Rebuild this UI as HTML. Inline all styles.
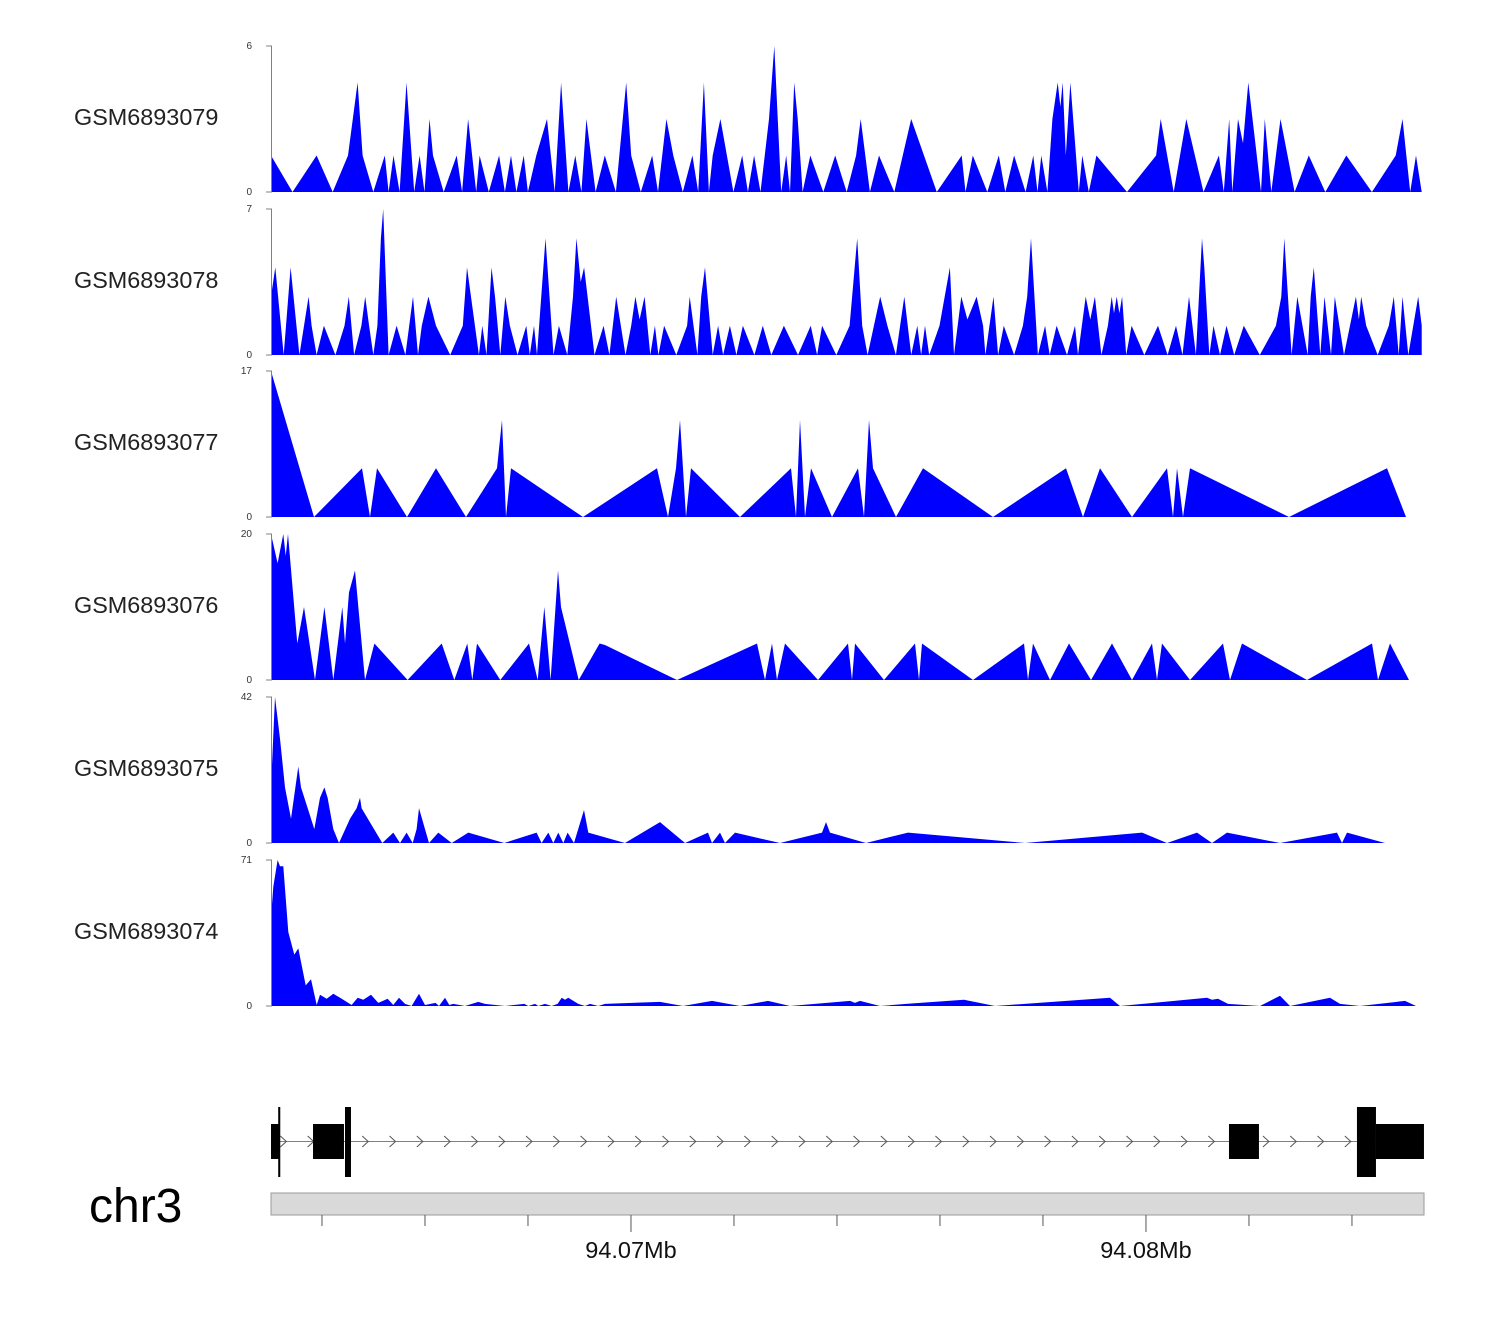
<!DOCTYPE html>
<html>
<head>
<meta charset="utf-8">
<style>
html,body{margin:0;padding:0;background:#fff;}
svg{display:block;font-family:"Liberation Sans",Arial,sans-serif;}
</style>
</head>
<body>
<svg id="chart" width="1500" height="1320" viewBox="0 0 1500 1320" xmlns="http://www.w3.org/2000/svg"></svg>
<script>
// ---- data (genomic positions in kb past 94.06 Mb) ----
const trackNames = ["GSM6893079","GSM6893078","GSM6893077","GSM6893076","GSM6893075","GSM6893074"];
const trackMax = [6,7,17,20,42,71];

const pos1 = [3.01,3.428,3.896,4.208,4.505,4.691,4.788,4.996,5.219,5.293,5.389,5.508,5.642,5.791,5.895,5.991,6.088,6.155,6.363,6.616,6.72,6.838,6.995,7.061,7.24,7.44,7.552,7.671,7.775,7.916,7.998,8.161,8.369,8.518,8.644,8.785,8.919,9.038,9.135,9.313,9.491,9.707,9.908,10.004,10.19,10.413,10.524,10.688,10.822,11.007,11.193,11.305,11.416,11.513,11.587,11.736,11.988,12.159,12.271,12.39,12.516,12.68,12.783,12.917,13.014,13.088,13.17,13.237,13.333,13.482,13.734,13.965,14.188,14.371,14.46,14.639,14.817,15.114,15.441,15.939,16.422,16.496,16.638,16.92,17.143,17.269,17.44,17.663,17.812,17.893,17.968,18.087,18.183,18.287,18.339,18.384,18.443,18.533,18.696,18.763,18.889,19.038,19.632,20.197,20.286,20.539,20.784,21.118,21.416,21.512,21.616,21.676,21.787,21.884,21.988,22.233,22.307,22.434,22.612,22.887,23.162,23.482,23.89,24.388,24.849,24.982,25.131,25.243,25.354];
const val1 = [1.5,0,1.5,0,1.5,4.5,1.5,0,1.5,0,1.5,0,4.5,0,1.5,0,3,1.5,0,1.5,0,3,0,1.5,0,1.5,0,1.5,0,1.5,0,1.5,3,0,4.5,0,1.5,0,3,0,1.5,0,4.5,1.5,0,1.5,0,3,1.5,0,1.5,0,4.5,0,1.5,3,0,1.5,0,1.5,0,3,6,0,1.5,0,4.5,3,0,1.5,0,1.5,0,1.5,3,0,1.5,0,3,0,1.5,0,1.5,0,1.5,0,1.5,0,1.5,0,1.5,0,3,4.5,3.5,4.5,1.5,4.5,0,1.5,0,1.5,0,1.5,3,0,3,0,1.5,0,3,0,3,2,4.5,0,3,0,3,0,1.5,0,1.5,0,1.5,3,0,1.5,0];

const pos2 = [3.01,3.093,3.257,3.391,3.561,3.74,3.799,3.896,4.037,4.26,4.438,4.52,4.624,4.765,4.84,4.914,4.996,5.077,5.144,5.189,5.293,5.449,5.62,5.768,5.865,5.939,6.066,6.214,6.489,6.734,6.816,7.047,7.113,7.195,7.292,7.359,7.463,7.559,7.648,7.797,7.968,8.035,8.117,8.176,8.34,8.496,8.6,8.763,8.875,8.941,9.023,9.09,9.291,9.469,9.581,9.714,9.893,10.004,10.086,10.168,10.264,10.376,10.465,10.532,10.643,10.881,11.089,11.141,11.29,11.364,11.438,11.587,11.691,11.788,11.921,12.048,12.174,12.397,12.56,12.724,12.969,13.244,13.489,13.615,13.712,13.987,14.245,14.393,14.49,14.594,14.839,14.98,15.144,15.307,15.441,15.56,15.634,15.709,15.79,15.991,16.192,16.273,16.415,16.533,16.712,16.838,16.883,17.039,17.128,17.24,17.44,17.611,17.693,17.767,17.901,18.042,18.131,18.265,18.466,18.622,18.681,18.83,18.919,19.008,19.134,19.261,19.335,19.38,19.432,19.484,19.536,19.617,19.721,19.967,20.234,20.42,20.583,20.71,20.836,20.97,21.089,21.133,21.23,21.312,21.438,21.564,21.713,21.899,22.211,22.523,22.627,22.686,22.828,22.939,23.14,23.199,23.259,23.385,23.467,23.593,23.667,23.846,24.076,24.135,24.18,24.277,24.5,24.715,24.812,24.908,24.982,25.094,25.287,25.354];
const val2 = [2.8,4.2,0,4.2,0,2.8,1.4,0,1.4,0,1.4,2.8,0,1.4,2.8,1.4,0,1.4,5.6,7,0,1.4,0,2.8,0,1.4,2.8,1.4,0,1.4,4.2,0,1.4,0,4.2,2.8,0,2.8,1.4,0,1.4,0,1.4,0,5.6,0,1.4,0,2.8,5.6,3.5,4.2,0,1.4,0,2.8,0,1.4,2.8,1.7,2.8,0,1.4,0,1.4,0,1.4,2.8,0,2.8,4.2,0,1.4,0,1.4,0,1.4,0,1.4,0,1.4,0,1.4,0,1.4,0,1.4,5.6,1.4,0,2.8,1.4,0,2.8,0,1.4,0,1.4,0,1.4,4.2,0,2.8,1.7,2.8,1.4,0,2.8,0,1.4,0,1.4,2.8,5.6,0,1.4,0,1.4,0,1.4,0,2.8,1.7,2.8,0,1.4,2.8,2.0,2.8,2.0,2.8,0,1.4,0,1.4,0,1.4,0,2.8,0,5.6,4.2,0,1.4,0,1.4,0,1.4,0,1.4,2.8,5.6,0,2.8,0,2.8,4.2,0,2.8,0,2.8,0,2.8,1.7,2.8,1.4,0,1.4,2.8,0,2.8,0,2.8,1.4];

const pos3 = [3.01,3.845,4.777,4.932,5.068,5.651,6.214,6.796,7.398,7.495,7.573,7.67,9.068,10.505,10.719,10.874,10.952,11.068,11.165,12.117,13.107,13.204,13.282,13.379,13.495,13.903,14.408,14.525,14.622,14.699,15.146,15.67,17.029,18.447,18.777,19.107,19.728,20.408,20.525,20.602,20.719,20.855,22.777,24.68,25.049];
const val3 = [17,0,5.67,0,5.67,0,5.67,0,5.67,11.3,0,5.67,0,5.67,0,5.67,11.3,0,5.67,0,5.67,0,11.3,0,5.67,0,5.67,0,11.3,5.67,0,5.67,0,5.67,0,5.67,0,5.67,0,5.67,0,5.67,0,5.67,0];

const pos4 = [3.01,3.139,3.249,3.295,3.34,3.521,3.651,3.864,4.046,4.22,4.395,4.447,4.525,4.641,4.835,5.017,5.663,6.324,6.57,6.822,6.919,7.01,7.463,8.019,8.188,8.317,8.44,8.583,8.641,8.984,9.391,9.495,10.893,12.447,12.602,12.738,12.835,12.991,13.631,14.214,14.292,14.35,14.913,15.515,15.593,15.651,16.641,17.631,17.709,17.806,18.136,18.505,18.932,19.34,19.728,20.117,20.214,20.311,20.855,21.495,21.631,21.864,23.127,24.389,24.505,24.738,25.107];
const val4 = [20,16,20,17,20,5,10,0,10,0,10,5,12,15,0,5,0,5,0,5,0,5,0,5,0,10,0,15,10,0,5,4.8,0,5,0,5,0,5,0,5,0,5,0,5,0,5,0,5,0,5,0,5,0,5,0,5,0,5,0,5,0,5,0,5,0,5,0];

const pos5 = [3.01,3.088,3.185,3.282,3.398,3.541,3.593,3.722,3.851,3.961,4.046,4.11,4.22,4.33,4.544,4.673,4.738,4.77,5.172,5.385,5.515,5.644,5.761,5.838,5.884,6.078,6.259,6.518,6.841,7.54,8.168,8.265,8.395,8.492,8.589,8.686,8.77,8.893,9.087,9.171,9.884,10.563,11.049,11.495,11.573,11.728,11.826,12.02,12.893,13.709,13.787,13.864,14.563,15.379,17.651,19.923,20.408,20.991,21.282,21.573,22.602,23.709,23.806,23.903,24.641];
const val5 = [16,42,30,16,7,22,16,10,4,13,16,13,4,0,7,10,13,10,0,3,0,3,0,4,10,0,3,0,3,0,3,0,3,0,3,0,3,0,9.5,3,0,6,0,3,0,3,0,3,0,3,6,3,0,3,0,3,0,3,0,3,0,3,0,3,0];

const pos6 = [3.01,3.055,3.139,3.185,3.249,3.346,3.463,3.541,3.683,3.787,3.897,3.961,4.091,4.22,4.382,4.576,4.693,4.803,4.952,5.094,5.275,5.385,5.495,5.612,5.741,5.884,6.0,6.207,6.272,6.388,6.472,6.55,6.777,7.036,7.165,7.553,7.929,8.006,8.136,8.201,8.33,8.459,8.576,8.654,8.718,8.783,8.977,9.107,9.204,9.366,9.495,10.02,10.563,11.01,11.573,12.117,12.66,13.088,14.253,14.35,14.447,14.835,15.34,16.466,17.068,19.301,19.495,21.185,21.282,21.398,21.593,22.214,22.602,22.796,23.573,23.767,24.156,25.029,25.243];
const val6 = [43,58,71,68,68,36,25,28,10,13,0.5,5.5,3.5,6,3.5,0.5,4,3,5.5,1.5,3.5,0.5,4,1,0,6,0.5,1.5,0,4,0.5,1,0,2,1,0,1,0,1,0,1,0,1,4,3,4,1,0,1,0,1,1.5,2,0,2.5,0,2.5,0,2.5,1.5,2.5,0,1,3,0,4,0,4,3,3.5,1,0,5,0,4,1,0,2.5,0];

const trackPos = [pos1,pos2,pos3,pos4,pos5,pos6];
const trackVal = [val1,val2,val3,val4,val5,val6];

// gene model (kb past 94.06 Mb)
const exonStart = [3.01, 3.826, 21.612, 24.466];
const exonEnd   = [3.17, 4.427, 22.194, 25.398];
const tallStart = [3.15, 4.447, 24.097];
const tallEnd   = [3.19, 4.563, 24.466];
const axisTicks = [4,6,8,10,12,14,16,18,20,22,24];
const axisLabelPos = [10,20];
const axisLabels = ["94.07Mb","94.08Mb"];

// ---- scales ----
const X0 = 271, X1 = 1422, D0 = 3.01, D1 = 25.36;
function xs(kb){ return X0 + (kb - D0) / (D1 - D0) * (X1 - X0); }
const trackTop = [46,209,371,534,697,860];
const trackH = 146;
function ys(t, v){ return trackTop[t] + trackH - v / trackMax[t] * trackH; }

const NS = "http://www.w3.org/2000/svg";
const svg = document.getElementById("chart");
function mk(tag, attrs, parent){
  const e = document.createElementNS(NS, tag);
  for (const k in attrs) e.setAttribute(k, attrs[k]);
  (parent || svg).appendChild(e);
  return e;
}

// ---- tracks ----
for (let t = 0; t < 6; t++){
  const g = mk("g", {});
  
  
  const base = trackTop[t] + trackH;
  const lab = mk("text", {x: 74, y: trackTop[t] + 79, "font-size": 23.4, fill: "#222"}, g);
  lab.textContent = trackNames[t];
  
  
  const ps = trackPos[t], vs = trackVal[t];
  let d = "M" + xs(ps[0]).toFixed(1) + "," + base;
  for (let i = 0; i < ps.length; i++) d += " L" + xs(ps[i]).toFixed(1) + "," + ys(t, vs[i]).toFixed(1);
  d += " L" + xs(ps[ps.length-1]).toFixed(1) + "," + base + " Z";
  const area = mk("path", {d: d, fill: "#0000ff", stroke: "none"}, g);
  
  
  const ax = mk("path", {d: "M266," + trackTop[t] + " H" + (X0+0.5) + " V" + base + " H266", fill: "none", stroke: "#808080", "stroke-width": 1}, g);
  
  
  const tmax = mk("text", {x: 252, y: trackTop[t] + 3, "font-size": 10, fill: "#333", "text-anchor": "end"}, g);
  tmax.textContent = trackMax[t];
  
  
  const tmin = mk("text", {x: 252, y: base + 3, "font-size": 10, fill: "#333", "text-anchor": "end"}, g);
  tmin.textContent = "0";
  
  
}

// ---- gene model ----
const gg = mk("g", {});


const gl = mk("line", {x1: xs(D0), x2: xs(25.398), y1: 1141.5, y2: 1141.5, stroke: "#808080", "stroke-width": 1}, gg);


for (let k = 3.25; k < 24.0; k += 0.53){
  const cx = xs(k);
  const ch = mk("path", {d: "M" + (cx-3) + ",1136 L" + (cx+3) + ",1141.5 L" + (cx-3) + ",1147", fill: "none", stroke: "#555", "stroke-width": 1}, gg);
  
  
}
for (let i = 0; i < exonStart.length; i++){
  const r = mk("rect", {x: xs(exonStart[i]), y: 1124, width: xs(exonEnd[i]) - xs(exonStart[i]), height: 35, fill: "#000"}, gg);
  
  
}
for (let i = 0; i < tallStart.length; i++){
  const r = mk("rect", {x: xs(tallStart[i]), y: 1107, width: Math.max(2, xs(tallEnd[i]) - xs(tallStart[i])), height: 70, fill: "#000"}, gg);
  
  
}

// ---- chromosome axis ----
const chr = mk("text", {x: 89, y: 1222, "font-size": 48, fill: "#000"});
chr.textContent = "chr3";


const bar = mk("rect", {x: 271, y: 1193, width: 1153, height: 22, fill: "#d9d9d9", stroke: "#9a9a9a", "stroke-width": 1});


for (let i = 0; i < axisTicks.length; i++){
  const major = axisLabelPos.indexOf(axisTicks[i]) >= 0;
  const tk = mk("line", {x1: xs(axisTicks[i]), x2: xs(axisTicks[i]), y1: 1215, y2: major ? 1232 : 1226, stroke: "#555", "stroke-width": 1});
  
  
}
for (let i = 0; i < axisLabelPos.length; i++){
  const tl = mk("text", {x: xs(axisLabelPos[i]), y: 1258, "font-size": 23.5, fill: "#111", "text-anchor": "middle"});
  tl.textContent = axisLabels[i];
  
  
}
</script>
</body>
</html>
